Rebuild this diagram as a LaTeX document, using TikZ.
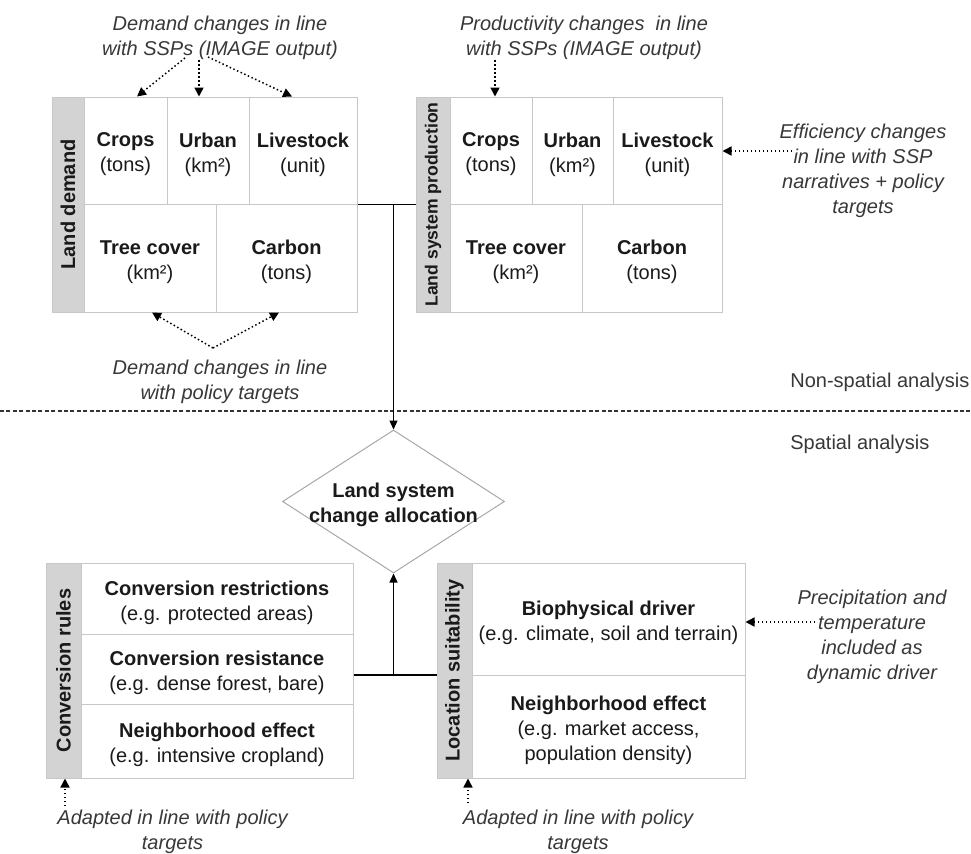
\documentclass[tikz,border=0pt]{standalone}
\usepackage{fontspec}
\setmainfont{Liberation Sans}
\usetikzlibrary{shapes.geometric,arrows.meta,calc}
\definecolor{bc}{HTML}{C8C8C8}
\definecolor{dcol}{HTML}{A8A8A8}
\definecolor{sg}{HTML}{D3D3D3}
\definecolor{tc}{HTML}{1A1A1A}
\definecolor{ic}{HTML}{383838}
\newcommand\fs{\fontsize{10}{12.5}\selectfont}
\newcommand\fss{\fontsize{8.8}{10}\selectfont}
\newcommand\cellbox[6]{%
  \pgfmathsetmacro\cbw{(#4-#2)*0.5}\pgfmathsetmacro\cbh{(#5-#3)*0.5}%
  \node[cell,minimum width=\cbw pt,minimum height=\cbh pt] (#1) at ({(#2+#4)/2},{(#3+#5)/2}) {};
  \node[celltext] (#1t) at ($(#1.center)+(0,4)$) {#6};}
\newcommand\stripbox[7]{%
  \pgfmathsetmacro\cbw{(#4-#2)*0.5}\pgfmathsetmacro\cbh{(#5-#3)*0.5}%
  \node[stripnode,font=#7,rotate=90,minimum width=\cbh pt,minimum height=\cbw pt] (#1) at ({(#2+#4)/2},{(#3+#5)/2}) {#6};}
\newcommand\areabox[5]{%
  \pgfmathsetmacro\cbw{(#4-#2)*0.5}\pgfmathsetmacro\cbh{(#5-#3)*0.5}%
  \node[areanode,minimum width=\cbw pt,minimum height=\cbh pt] (#1) at ({(#2+#4)/2},{(#3+#5)/2}) {};}
\begin{document}
\begin{tikzpicture}[x=0.5pt,y=-0.5pt,
  cell/.style={draw=bc,line width=0.5pt,fill=white,inner sep=0pt},
  celltext/.style={inner sep=0pt,align=center,text=tc,font=\fs},
  stripnode/.style={draw=bc,line width=0.5pt,fill=sg,inner sep=0pt,text=tc},
  areanode/.style={draw=bc,line width=0.5pt,inner sep=0pt},
  lbl/.style={font=\fs\itshape,text=ic,align=center,inner sep=0pt},
  plain/.style={font=\fs,text=ic,inner sep=0pt},
  conn/.style={draw=black,line width=0.6pt},
  solidarrow/.style={conn,-{Triangle[length=4.5pt,width=4pt]}},
  dotarrow/.style={draw=black,line width=0.75pt,dash pattern=on 0.75pt off 1.25pt,-{Triangle[length=4.5pt,width=4.5pt]}},
  dashline/.style={draw=black!80,line width=0.7pt,dash pattern=on 2pt off 1.2pt}]
\useasboundingbox[fill=white] (0,0) rectangle (971,853);

% ---------- Land demand ----------
\areabox{ldbox}{52}{97}{357}{312}
\stripbox{ldS}{52}{97}{84}{312}{Land demand}{\fs\bfseries}
\cellbox{dc1}{84}{97}{167}{204}{\textbf{Crops}\\(tons)}
\cellbox{dc2}{167}{97}{249}{204}{\textbf{Urban}\\(km²)}
\cellbox{dc3}{249}{97}{357}{204}{\textbf{Livestock}\\(unit)}
\cellbox{dc4}{84}{204}{216}{312}{\textbf{Tree cover}\\(km²)}
\cellbox{dc5}{216}{204}{357}{312}{\textbf{Carbon}\\(tons)}

% ---------- Land system production ----------
\areabox{lpbox}{416}{97}{722}{312}
\stripbox{lpS}{416}{97}{450}{312}{Land system production}{\fss\bfseries}
\cellbox{pc1}{450}{97}{532}{204}{\textbf{Crops}\\(tons)}
\cellbox{pc2}{532}{97}{613}{204}{\textbf{Urban}\\(km²)}
\cellbox{pc3}{613}{97}{722}{204}{\textbf{Livestock}\\(unit)}
\cellbox{pc4}{450}{204}{582}{312}{\textbf{Tree cover}\\(km²)}
\cellbox{pc5}{582}{204}{722}{312}{\textbf{Carbon}\\(tons)}

% ---------- Conversion rules ----------
\areabox{crbox}{46}{563}{353}{778}
\stripbox{crS}{46}{563}{81}{778}{Conversion rules}{\fs\bfseries}
\cellbox{cr1}{81}{563}{353}{634}{\textbf{Conversion restrictions}\\(e.g. protected areas)}
\cellbox{cr2}{81}{634}{353}{704}{\textbf{Conversion resistance}\\(e.g. dense forest, bare)}
\cellbox{cr3}{81}{704}{353}{778}{\textbf{Neighborhood effect}\\(e.g. intensive cropland)}

% ---------- Location suitability ----------
\areabox{lsbox}{437}{563}{745}{778}
\stripbox{lsS}{437}{563}{472}{778}{Location suitability}{\fs\bfseries}
\cellbox{ls1}{472}{563}{745}{675}{\textbf{Biophysical driver}\\(e.g. climate, soil and terrain)}
\cellbox{ls2}{472}{675}{745}{778}{\textbf{Neighborhood effect}\\(e.g. market access,\\population density)}

% ---------- Diamond ----------
\node[diamond,draw=dcol,line width=0.5pt,minimum width=111pt,minimum height=71.5pt,inner sep=0pt] (dia) at (393.5,501.5) {};
\node[font=\fs\bfseries,text=tc,align=center,inner sep=0pt] (diat) at ($(dia.center)+(0,3.5)$) {Land system\\change allocation};

% ---------- Labels ----------
\node[lbl] (dt) at (220,38) {Demand changes in line\\with SSPs (IMAGE output)};
\node[lbl] (pt) at (584,38) {Productivity changes~ in line\\with SSPs (IMAGE output)};
\node[lbl] (eff) at (863,171) {Efficiency changes\\in line with SSP\\narratives + policy\\targets};
\node[lbl] (dp) at (220,381.5) {Demand changes in line\\with policy targets};
\node[plain,anchor=west] (ns) at (790,382) {Non-spatial analysis};
\node[plain,anchor=west] (sp) at (790,444) {Spatial analysis};
\node[lbl] (prec) at (872,637) {Precipitation and\\temperature\\included as\\dynamic driver};
\node[lbl] (ad1) at (172.5,832) {Adapted in line with policy\\targets};
\node[lbl] (ad2) at (578,832) {Adapted in line with policy\\targets};

% ---------- Divider ----------
\coordinate (dl) at (0,411);
\coordinate (dr) at (971,411);
\draw[dashline] (dl) -- (dr);

% ---------- Solid connectors ----------
\draw[conn] (ldbox.east) -- (lpbox.west);
\draw[solidarrow] (dia.north |- ldbox.east) -- (dia.north);
\coordinate (j2) at (393.5,675);
\draw[conn] (crbox.east |- j2) -- (lsbox.west |- j2);
\draw[solidarrow] (j2) -- (dia.south);

% ---------- Dotted arrows ----------
\coordinate (s1) at (185,58);
\coordinate (s2) at (199,60);
\coordinate (s3) at (208,57);
\draw[dotarrow] (s1) -- ($(dc1.north)+(11.5,0)$);
\draw[dotarrow] (s2) -- ($(dc2.north)+(-9,0)$);
\draw[dotarrow] (s3) -- ($(dc3.north)+(-11,0)$);
\coordinate (s4) at (213,348);
\draw[dotarrow] (s4) -- ($(dc4.south)+(2,0)$);
\draw[dotarrow] (s4) -- ($(dc5.south)+(-7.5,0)$);
\coordinate (s5) at (495,60);
\draw[dotarrow] (s5) -- ($(pc1.north)+(4,0)$);
\coordinate (s6) at (792,151);
\draw[dotarrow] (s6) -- (pc3.east |- s6);
\coordinate (s7) at (815,622);
\draw[dotarrow] (s7) -- (ls1.east |- s7);
\coordinate (s8) at (65,806);
\draw[dotarrow] (s8) -- (crS.west -| s8);
\coordinate (s9) at (468,803);
\draw[dotarrow] (s9) -- (lsS.west -| s9);
\end{tikzpicture}
\end{document}
